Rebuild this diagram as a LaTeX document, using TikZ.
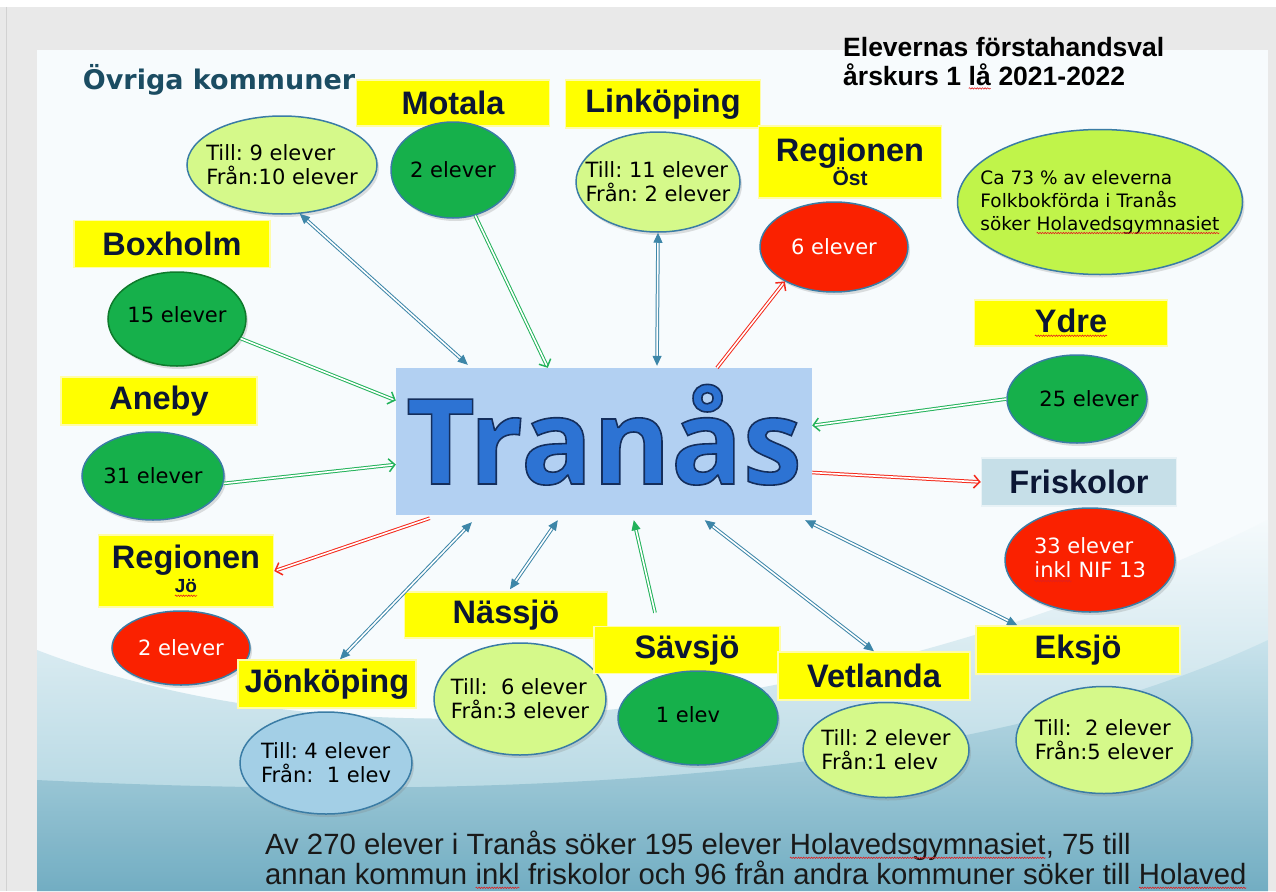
\documentclass[tikz,border=0pt]{standalone}
\usepackage{fontspec}
\setmainfont{DejaVu Sans}
\newfontfamily\rubrikfont{Liberation Sans}
\newfontfamily\tranasfont{Open Sans}
\usepackage{tikz}
\usetikzlibrary{positioning}
\usetikzlibrary{shapes.geometric}
\usetikzlibrary{arrows.meta}
\usetikzlibrary{shadows}
\usetikzlibrary{decorations.pathmorphing}
\definecolor{ram}{HTML}{E9E9E9}
\definecolor{ramlinje}{HTML}{D2D2D2}
\definecolor{bild}{HTML}{F7FBFD}
\definecolor{vag1}{HTML}{F5FAFC}
\definecolor{vag2}{HTML}{A3CEDC}
\definecolor{vag3}{HTML}{C6E2EB}
\definecolor{vag4}{HTML}{6AA8BE}
\definecolor{gul}{HTML}{FFFF00}
\definecolor{gulkant}{HTML}{FFFCA8}
\definecolor{marin}{HTML}{0B1634}
\definecolor{frigra}{HTML}{C6DFE8}
\definecolor{morkgron}{HTML}{16B04B}
\definecolor{ljusgron}{HTML}{D5F98A}
\definecolor{limegron}{HTML}{C0F44A}
\definecolor{rod}{HTML}{FA2100}
\definecolor{ljusbla}{HTML}{A3CFE6}
\definecolor{bubbelkant}{HTML}{3A7CA5}
\definecolor{gronkant}{HTML}{0E7A2C}
\definecolor{tranasbla}{HTML}{B2D0F2}
\definecolor{tranastext}{HTML}{2D73D3}
\definecolor{ovrigtext}{HTML}{1B4C62}
\definecolor{pilbla}{HTML}{3D86A8}
\definecolor{pilgron}{HTML}{22B25A}
\definecolor{pilrod}{HTML}{F42A1C}
\definecolor{stavrod}{HTML}{E02020}
\frenchspacing
\tikzstyle{lapp}=[rectangle,fill=gul,draw=gulkant,line width=1.5pt,inner sep=0pt,text=marin,font=\rubrikfont\bfseries\fontsize{32.5}{32}\selectfont]
\tikzstyle{bubbla}=[ellipse,draw=bubbelkant,line width=1.5pt,inner sep=0pt,drop shadow={shadow xshift=2pt,shadow yshift=-3pt,opacity=0.25}]
\tikzstyle{btext}=[align=left,inner sep=0pt,font=\fontsize{21}{24}\selectfont]
\tikzstyle{stavlinje}=[draw=stavrod,line width=0.6pt,decorate,decoration={snake,amplitude=0.7pt,segment length=2.6pt}]
\tikzstyle{pil}=[draw,double=white,double distance=1.6pt,line width=1pt]
\tikzstyle{blapil}=[pil,draw=pilbla,{Triangle[length=10pt,width=9pt]}-{Triangle[length=10pt,width=9pt]}]
\tikzstyle{gronpil}=[pil,draw=pilgron,-{Straight Barb[length=6pt,width=13pt,line width=1.5pt]}]
\tikzstyle{rodpil}=[pil,draw=pilrod,-{Straight Barb[length=6pt,width=13pt,line width=1.5pt]}]
\newcommand{\stavfel}[1]{\tikz[baseline=(sf.base)]{\node[rectangle,draw=none,fill=none,inner sep=0pt,outer sep=0pt,minimum size=0pt,anchor=base] (sf) {#1};\draw[stavlinje] ([yshift=-3pt]sf.base west) -- ([yshift=-3pt]sf.base east);}}
\newcommand{\kontur}[1]{\special{pdf:literal direct 2 Tr 1.6 w 0.08 0.18 0.36 RG}#1\special{pdf:literal direct 0 Tr}}

\begin{document}
\begin{tikzpicture}[x=1pt,y=-1pt]
	\useasboundingbox (0,0) rectangle (1276,891);
	
	% bakgrund
	\fill[white] (0,0) rectangle (1276,891);
	\fill[ram] (0,7) rectangle (1276,891);
	\draw[ramlinje,line width=1pt] (6,7) -- (6,891);
	\fill[bild] (37,50) rectangle (1268,891);
	\shade[top color=vag1,bottom color=vag2] (37,650) .. controls (400,790) and (900,700) .. (1268,520) -- (1268,891) -- (37,891) -- cycle;
	\shade[top color=vag3,bottom color=vag4,opacity=0.85] (37,780) .. controls (450,800) and (950,790) .. (1268,640) -- (1268,891) -- (37,891) -- cycle;
	
	% rubriker
	\node[text=ovrigtext,font=\bfseries\fontsize{27}{27}\selectfont] (ovriga) at (219,80) {Övriga kommuner};
	\node[anchor=north west,inner sep=0pt,align=left,font=\rubrikfont\bfseries\fontsize{26.5}{29}\selectfont] (rubrik) at (843,37) {Elevernas förstahandsval\\årskurs 1 \stavfel{lå} 2021-2022};
	
	% mitten
	\node[rectangle,fill=tranasbla,minimum width=416pt,minimum height=147pt,inner sep=0pt,text=tranastext,font=\tranasfont\bfseries\fontsize{119}{119}\selectfont,text height=85pt,text depth=0pt] (tranas) at (604,441.5) {\kontur{Tranås}};
	
	% kommuner
	\node[bubbla,fill=ljusgron,minimum width=190pt,minimum height=98pt,label={[btext]center:{Till: 9 elever\\Från:10 elever}}] (ovrigaell) at (282,165) {};
	
	\node[lapp,minimum width=193pt,minimum height=46pt] (motala) at (453,103) {Motala};
	\node[bubbla,fill=morkgron,minimum width=124pt,minimum height=96pt,label={[btext]center:{2 elever}}] (motalaell) at (453,170) {};
	
	\node[lapp,minimum width=195pt,minimum height=48pt] (linkoping) at (663,104) {Linköping};
	\node[bubbla,fill=ljusgron,minimum width=164pt,minimum height=100pt,label={[btext]center:{Till: 11 elever\\Från: 2 elever}}] (linkopingell) at (658,182) {};
	
	\node[lapp,minimum width=183pt,minimum height=72pt,align=center] (regost) at (850,162) {Regionen\\[-8pt]{\fontsize{21}{21}\selectfont Öst}};
	\node[bubbla,fill=rod,minimum width=148pt,minimum height=90pt,label={[btext,text=white]center:{6 elever}}] (regostell) at (834,247) {};
	
	\node[bubbla,fill=limegron,minimum width=285pt,minimum height=145pt,label={[btext,font=\fontsize{18.5}{23}\selectfont]center:{Ca 73 \% av eleverna\\Folkbokförda i Tranås\\söker \stavfel{Holavedsgymnasiet}}}] (andel) at (1100,202) {};
	
	\node[lapp,minimum width=196pt,minimum height=47pt] (boxholm) at (172,244) {Boxholm};
	\node[bubbla,draw=gronkant,fill=morkgron,minimum width=138pt,minimum height=94pt,label={[btext,yshift=4pt]center:{15 elever}}] (boxholmell) at (177,319) {};
	
	\node[lapp,minimum width=196pt,minimum height=48pt] (aneby) at (159,401) {Aneby};
	\node[bubbla,fill=morkgron,minimum width=142pt,minimum height=88pt,label={[btext]center:{31 elever}}] (anebyell) at (153,476) {};
	
	\node[lapp,minimum width=193pt,minimum height=46pt] (ydre) at (1071,323) {\stavfel{Ydre}};
	\node[bubbla,fill=morkgron,minimum width=140pt,minimum height=88pt,label={[btext,xshift=12pt]center:{25 elever}}] (ydreell) at (1077,399) {};
	
	\node[lapp,fill=frigra,draw=frigra!40!white,minimum width=195pt,minimum height=48pt] (friskolor) at (1079,482) {Friskolor};
	\node[bubbla,fill=rod,minimum width=170pt,minimum height=104pt,label={[btext,text=white]center:{33 elever\\\stavfel{inkl} NIF 13}}] (friskolorell) at (1090,560) {};
	
	\node[lapp,minimum width=175pt,minimum height=72pt,align=center] (regjo) at (186,571) {Regionen\\[-8pt]{\fontsize{19}{19}\selectfont\stavfel{Jö}}};
	\node[bubbla,fill=rod,minimum width=138pt,minimum height=74pt,label={[btext,text=white]center:{2 elever}}] (regjoell) at (181,648) {};
	
	\node[lapp,minimum width=178pt,minimum height=48pt] (jonkoping) at (327,684) {Jönköping};
	\node[bubbla,fill=ljusbla,minimum width=172pt,minimum height=102pt,label={[btext]center:{Till: 4 elever\\Från:~ 1 elev}}] (jonkopingell) at (326,763) {};
	
	\node[lapp,minimum width=203pt,minimum height=46pt] (nassjo) at (506,615) {Nässjö};
	\node[bubbla,fill=ljusgron,minimum width=172pt,minimum height=112pt,label={[btext]center:{Till:~ 6 elever\\Från:3 elever}}] (nassjoell) at (520,699) {};
	
	\node[lapp,minimum width=186pt,minimum height=47pt] (savsjo) at (687,650) {Sävsjö};
	\node[bubbla,fill=morkgron,minimum width=160pt,minimum height=94pt,label={[btext,xshift=-10pt,yshift=3pt]center:{1 elev}}] (savsjoell) at (698,718) {};
	
	\node[lapp,minimum width=192pt,minimum height=48pt] (vetlanda) at (874,676) {Vetlanda};
	\node[bubbla,fill=ljusgron,minimum width=166pt,minimum height=95pt,label={[btext]center:{Till: 2 elever\\Från:1 elev}}] (vetlandaell) at (886,750) {};
	
	\node[lapp,minimum width=204pt,minimum height=48pt] (eksjo) at (1078,650) {Eksjö};
	\node[bubbla,fill=ljusgron,minimum width=176pt,minimum height=107pt,label={[btext]center:{Till:~ 2 elever\\Från:5 elever}}] (eksjoell) at (1104,740) {};
	
	% summering
	\node[anchor=north west,inner sep=0pt,align=left,text=black!90,font=\rubrikfont\fontsize{29.3}{30}\selectfont] (summa) at (265,831) {Av 270 elever i Tranås söker 195 elever \stavfel{Holavedsgymnasiet}, 75 till\\annan kommun \stavfel{inkl} friskolor och 96 från andra kommuner söker till \stavfel{Holaved}};
	
	% pilar
	\path
		(ovrigaell.-70) edge[blapil] ([xshift=72pt,yshift=3pt]tranas.north west)
		(linkopingell.south) edge[blapil] ([xshift=53pt,yshift=2pt]tranas.north)
		([xshift=13pt]jonkoping.north) edge[blapil] ([xshift=76pt,yshift=-7pt]tranas.south west)
		([xshift=4pt,yshift=2pt]nassjo.north) edge[blapil] ([xshift=162pt,yshift=-5pt]tranas.south west)
		([xshift=309pt,yshift=-5pt]tranas.south west) edge[blapil] (vetlanda.north)
		([xshift=-7pt,yshift=-5pt]tranas.south east) edge[blapil] ([xshift=42pt]eksjo.north west);
	\path
		(motalaell.-64) edge[gronpil] ([xshift=152pt]tranas.north west)
		(boxholmell.-17) edge[gronpil] ([yshift=41pt]tranas.west)
		(anebyell.-6) edge[gronpil] ([yshift=-23pt]tranas.west)
		(ydreell.west) edge[gronpil] ([yshift=16pt]tranas.east)
		([xshift=-32pt,yshift=13pt]savsjo.north) edge[gronpil,-{Triangle[length=10pt,width=9pt]}] ([xshift=238pt,yshift=-5pt]tranas.south west);
	\path
		([xshift=113pt]tranas.north) edge[rodpil] (regostell.215)
		([yshift=-31pt]tranas.east) edge[rodpil] (friskolor.west)
		([xshift=34pt,yshift=-3pt]tranas.south west) edge[rodpil] (regjo.east);
\end{tikzpicture}
\end{document}
